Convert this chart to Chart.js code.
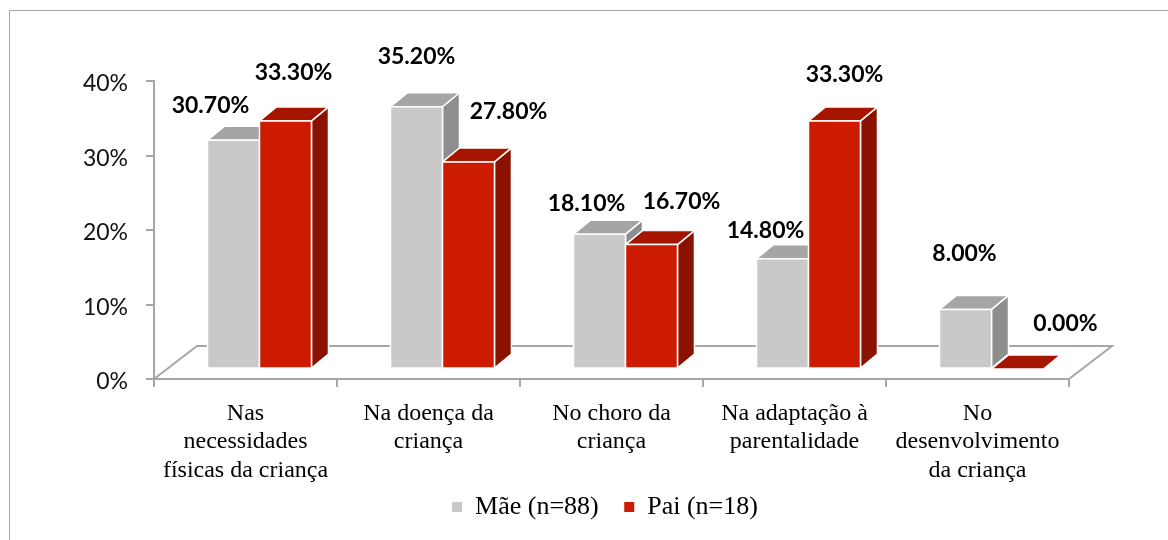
<!DOCTYPE html>
<html>
<head>
<meta charset="utf-8">
<script src="https://cdn.jsdelivr.net/npm/chart.js@4.4.1/dist/chart.umd.min.js"></script>
<style>
    html, body { margin: 0; padding: 0; background: #fff; }
    #wrap { width: 1168px; height: 540px; position: relative; }
</style>
</head>
<body>
<div id="wrap"><canvas id="apoioChart"></canvas></div>
<script>
const categories = [
    ['Nas', 'necessidades', 'físicas da criança'],
    ['Na doença da', 'criança'],
    ['No choro da', 'criança'],
    ['Na adaptação à', 'parentalidade'],
    ['No', 'desenvolvimento', 'da criança']
];
const maeValues = [30.7, 35.2, 18.1, 14.8, 8.0];
const paiValues = [33.3, 27.8, 16.7, 33.3, 0.0];
const seriesNames = ['Mãe (n=88)', 'Pai (n=18)'];
const yTicks = [0, 10, 20, 30, 40];

// fake 3D look (Excel style)
const SHIFT = { x: 14, y: -10 };
const DEPTH = { x: 17, y: -14 };
const FLOOR = { x: 43, y: -33 };
const faces = [
    { front: '#c9c9c9', top: '#a5a5a5', side: '#8e8e8e' },
    { front: '#cc1b00', top: '#a61500', side: '#8b1100' }
];
// label nudges relative to top of each bar, like the excel placement
const labelNudge = [
    [[-23, -35], [0, -50], [-13, -31], [-17, -28], [-1, -56]],
    [[8, -48], [40, -50], [30, -43], [10, -46], [48, -45]]
];

function poly(ctx, pts, fill) {
    ctx.beginPath();
    ctx.moveTo(pts[0][0], pts[0][1]);
    for (let k = 1; k < pts.length; k++) ctx.lineTo(pts[k][0], pts[k][1]);
    ctx.closePath();
    ctx.fillStyle = fill;
    ctx.fill();
    ctx.stroke();
}

const frame3d = {
    id: 'frame3d',
    beforeDraw(chart) {
        const ctx = chart.ctx;
        ctx.save();
        ctx.fillStyle = '#fff';
        ctx.fillRect(0, 0, chart.width, chart.height);
        ctx.strokeStyle = '#a6a6a6';
        ctx.lineWidth = 1;
        ctx.strokeRect(9.5, 10.5, chart.width + 20, chart.height + 20);
        ctx.restore();
    },
    beforeDatasetsDraw(chart) {
        const { ctx, chartArea: a } = chart;
        ctx.save();
        ctx.strokeStyle = '#a6a6a6';
        ctx.lineWidth = 2;
        ctx.beginPath();
        ctx.moveTo(a.left, a.bottom);
        ctx.lineTo(a.left + FLOOR.x, a.bottom + FLOOR.y);
        ctx.lineTo(a.right + FLOOR.x, a.bottom + FLOOR.y);
        ctx.lineTo(a.right, a.bottom);
        ctx.stroke();
        ctx.restore();
    },
    beforeDatasetDraw() {
        return false;
    },
    afterDatasetsDraw(chart) {
        const ctx = chart.ctx;
        ctx.save();
        ctx.strokeStyle = '#ffffff';
        ctx.lineWidth = 1.5;
        ctx.lineJoin = 'round';
        for (let i = 0; i < categories.length; i++) {
            chart.data.datasets.forEach((ds, d) => {
                const p = chart.getDatasetMeta(d).data[i].getProps(['x', 'y', 'base', 'width'], true);
                const x0 = p.x - p.width / 2 + SHIFT.x, x1 = p.x + p.width / 2 + SHIFT.x;
                const y0 = p.y + SHIFT.y, y1 = p.base + SHIFT.y;
                const c = faces[d];
                poly(ctx, [[x1, y0], [x1 + DEPTH.x, y0 + DEPTH.y], [x1 + DEPTH.x, y1 + DEPTH.y], [x1, y1]], c.side);
                poly(ctx, [[x0, y0], [x0 + DEPTH.x, y0 + DEPTH.y], [x1 + DEPTH.x, y0 + DEPTH.y], [x1, y0]], c.top);
                if (y1 - y0 > 0.5) poly(ctx, [[x0, y0], [x1, y0], [x1, y1], [x0, y1]], c.front);
            });
        }
        ctx.restore();
    },
    afterDraw(chart) {
        const ctx = chart.ctx;
        ctx.save();
        ctx.font = 'bold 23px Lato';
        ctx.fillStyle = '#000';
        ctx.textAlign = 'center';
        ctx.textBaseline = 'middle';
        chart.data.datasets.forEach((ds, d) => {
            chart.getDatasetMeta(d).data.forEach((bar, i) => {
                const p = bar.getProps(['x', 'y', 'width'], true);
                const cx = p.x + SHIFT.x + labelNudge[d][i][0];
                const cy = p.y + SHIFT.y + labelNudge[d][i][1];
                ctx.fillText(ds.data[i].toFixed(2) + '%', cx, cy);
            });
        });
        ctx.restore();
    }
};

document.addEventListener('DOMContentLoaded', function () {
    const ctx = document.getElementById('apoioChart').getContext('2d');
    new Chart(ctx, {
        type: 'bar',
        data: {
            labels: categories,
            datasets: [{
                label: seriesNames[0],
                data: maeValues,
                backgroundColor: faces[0].front,
                borderWidth: 0
            }, {
                label: seriesNames[1],
                data: paiValues,
                backgroundColor: faces[1].front,
                borderWidth: 0
            }]
        },
        options: {
            responsive: true,
            maintainAspectRatio: false,
            animation: false,
            events: [],
            layout: { padding: { left: 0, right: 99, top: 81, bottom: 10 } },
            datasets: { bar: { categoryPercentage: 0.568, barPercentage: 1 } },
            plugins: {
                tooltip: { enabled: false },
                legend: {
                    position: 'bottom',
                    fullSize: false,
                    labels: {
                        boxWidth: 10,
                        boxHeight: 10,
                        padding: 6,
                        color: '#000',
                        font: { family: 'Liberation Serif', size: 26 },
                        generateLabels: function (chart) {
                            // extra spaces keep the wide gap between the two items
                            return Chart.defaults.plugins.legend.labels.generateLabels(chart).map(function (item, i) {
                                item.text = item.text + '\u00a0'.repeat(i === 0 ? 3 : 2);
                                return item;
                            });
                        }
                    }
                }
            },
            scales: {
                y: {
                    min: 0,
                    max: 40,
                    afterBuildTicks: function (scale) {
                        scale.ticks = yTicks.map(v => ({ value: v }));
                    },
                    afterFit: function (scale) { scale.width = 154; },
                    grid: { drawOnChartArea: false, tickLength: 8, color: '#a6a6a6', lineWidth: 2 },
                    border: { color: '#a6a6a6', width: 2 },
                    ticks: {
                        padding: 18,
                        labelOffset: 3,
                        color: '#111',
                        font: { family: 'Lato', size: 23 },
                        callback: function (value) { return value + '%'; }
                    }
                },
                x: {
                    afterFit: function (scale) { scale.height = 109; },
                    grid: { drawOnChartArea: false, tickLength: 8, color: '#a6a6a6', lineWidth: 2 },
                    border: { color: '#a6a6a6', width: 2 },
                    ticks: {
                        padding: 12,
                        maxRotation: 0,
                        autoSkip: false,
                        color: '#000',
                        font: { family: 'Liberation Serif', size: 24, lineHeight: 1.2 }
                    }
                }
            }
        },
        plugins: [frame3d]
    });
});
</script>
</body>
</html>
